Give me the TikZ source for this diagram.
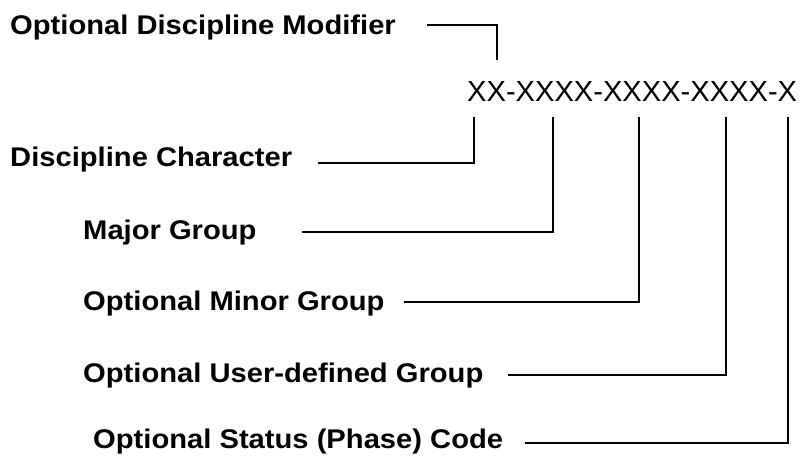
\documentclass[tikz,border=0pt]{standalone}
\usepackage{fontspec}
\setmainfont{Liberation Sans}
\begin{document}
\begin{tikzpicture}[x=1pt,y=-1pt,
  lbl/.style={anchor=base west,inner sep=0pt,font=\bfseries\fontsize{27}{32}\selectfont,xscale=1.08},
  codetxt/.style={anchor=base west,inner sep=0pt,font=\fontsize{29.1}{35}\selectfont},
  conn/.style={draw=black,line width=1.3pt}]
\useasboundingbox (0,0) rectangle (801,457);
\node[lbl] (mod) at (10,35) {Optional Discipline Modifier};
\node[lbl] (dc) at (10,167) {Discipline Character};
\node[lbl] (mg) at (83,240) {Major Group};
\node[lbl] (mn) at (83,310) {Optional Minor Group};
\node[lbl] (ug) at (83,382) {Optional User-defined Group};
\node[lbl] (sc) at (93,448) {Optional Status (Phase) Code};
\node[codetxt] (code) at (467,102) {XX-XXXX-XXXX-XXXX-X};
% connector ends
\coordinate (modS) at (427,25);
\coordinate (modE) at (497,60);
\coordinate (dcS) at (318,163);
\coordinate (dcE) at (474,117);
\coordinate (mgS) at (302,232);
\coordinate (mgE) at (553,117);
\coordinate (mnS) at (404,302);
\coordinate (mnE) at (639,117);
\coordinate (ugS) at (508,375);
\coordinate (ugE) at (726,117);
\coordinate (scS) at (525,443);
\coordinate (scE) at (788,117);
\draw[conn] (modS) -| (modE);
\draw[conn] (dcS) -| (dcE);
\draw[conn] (mgS) -| (mgE);
\draw[conn] (mnS) -| (mnE);
\draw[conn] (ugS) -| (ugE);
\draw[conn] (scS) -| (scE);
\end{tikzpicture}
\end{document}
